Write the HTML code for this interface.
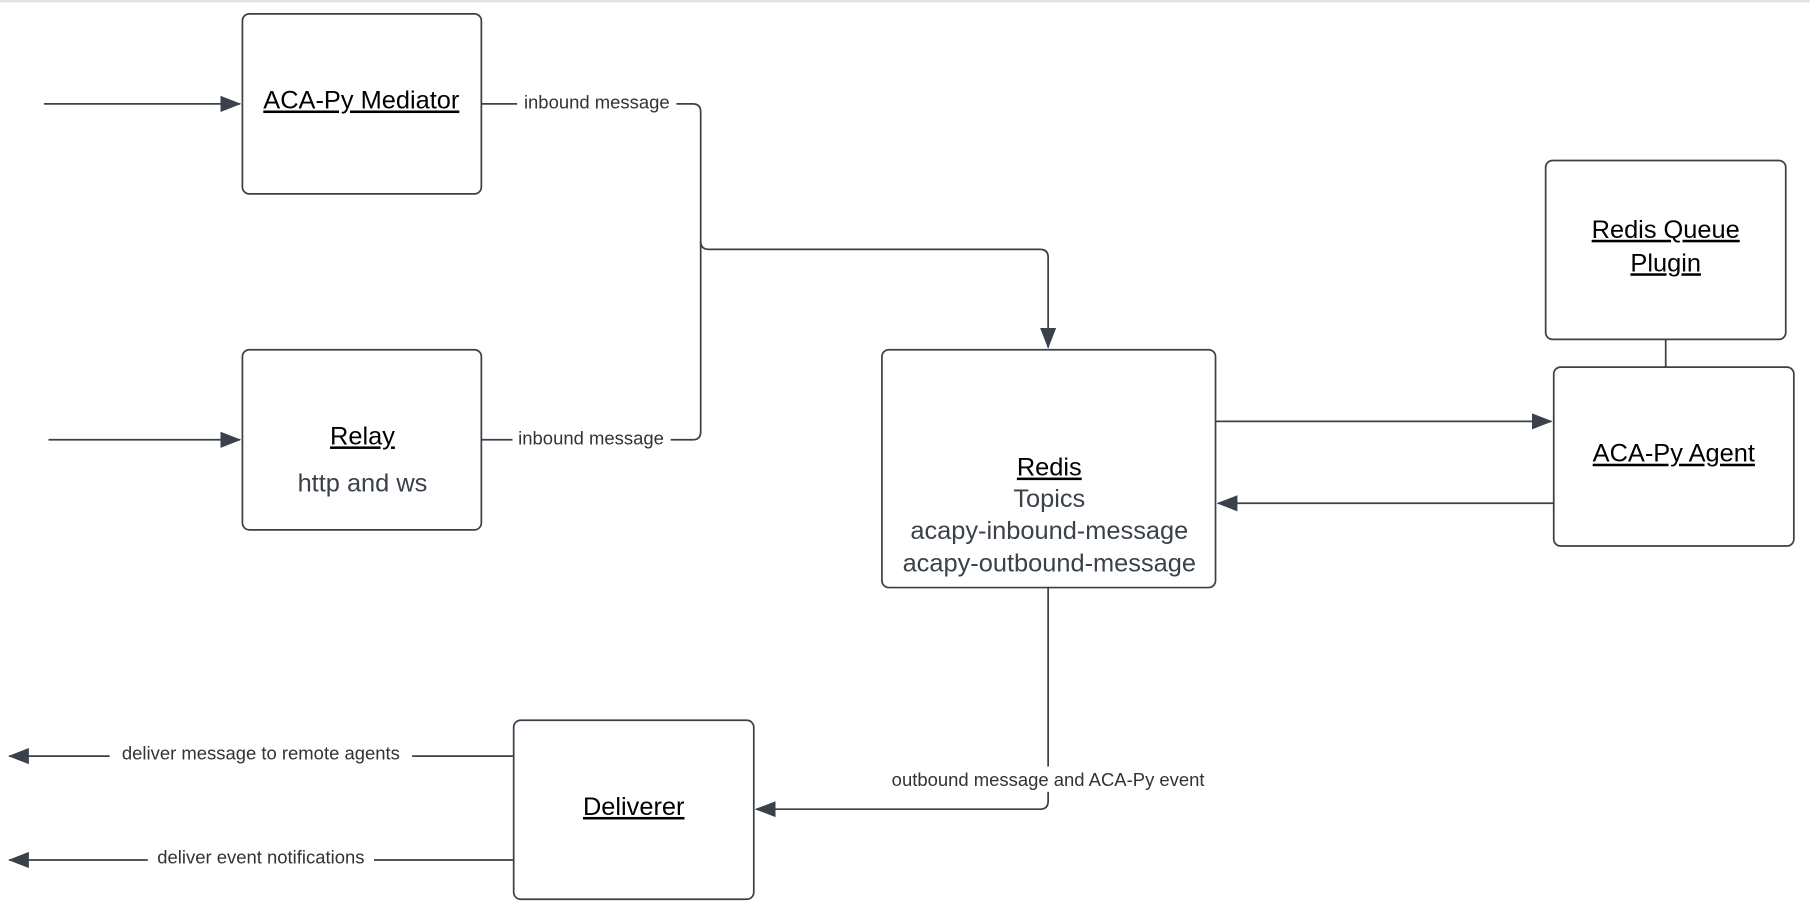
<!DOCTYPE html>
<html><head><meta charset="utf-8"><style>
html,body{margin:0;padding:0;background:#fff;width:1810px;height:920px;overflow:hidden}
svg{display:block}
text{font-family:"Liberation Sans",Arial,sans-serif}
</style></head><body>
<svg width="1810" height="920" viewBox="0 0 1568 797" xmlns="http://www.w3.org/2000/svg">
<defs>
<marker id="a" markerWidth="18" markerHeight="14" refX="17" refY="7" orient="auto" markerUnits="userSpaceOnUse">
<path d="M0,0 L18,7 L0,14 Z" fill="#3a414a"/></marker>
</defs>
<rect x="0" y="0" width="1568" height="2" fill="#e2e2e2"/>
<g fill="none" stroke="#3a414a" stroke-width="1.5">
<rect x="210" y="12" width="207" height="156" rx="6"/>
<rect x="210" y="303" width="207" height="156" rx="6"/>
<rect x="764" y="303" width="289" height="206" rx="6"/>
<rect x="1339" y="139" width="208" height="155" rx="6"/>
<rect x="1346" y="318" width="208" height="155" rx="6"/>
<rect x="445" y="624" width="208" height="155" rx="6"/>
<line x1="38" y1="90" x2="208" y2="90" marker-end="url(#a)"/>
<line x1="42" y1="381" x2="208" y2="381" marker-end="url(#a)"/>
<path d="M417,90 H600 Q607,90 607,97 V374 Q607,381 600,381 H417"/>
<path d="M607,209 Q607,216 614,216 H901 Q908,216 908,223 V301" marker-end="url(#a)"/>
<line x1="1443" y1="294" x2="1443" y2="318"/>
<line x1="1053" y1="365" x2="1344" y2="365" marker-end="url(#a)"/>
<line x1="1346" y1="436" x2="1055" y2="436" marker-end="url(#a)"/>
<path d="M908,509 V694 Q908,701 901,701 H655" marker-end="url(#a)"/>
<line x1="445" y1="655" x2="8" y2="655" marker-end="url(#a)"/>
<line x1="445" y1="745" x2="8" y2="745" marker-end="url(#a)"/>
</g>
<g font-size="16" fill="#333" text-anchor="middle">
<rect x="448" y="78" width="138" height="20" fill="#fff"/>
<text x="517" y="94">inbound message</text>
<rect x="444" y="369" width="137" height="20" fill="#fff"/>
<text x="512" y="385">inbound message</text>
<rect x="760" y="664" width="296" height="22" fill="#fff"/>
<text x="908" y="681">outbound message and ACA-Py event</text>
<rect x="95" y="643" width="262" height="20" fill="#fff"/>
<text x="226" y="658">deliver message to remote agents</text>
<rect x="128" y="733" width="196" height="20" fill="#fff"/>
<text x="226" y="748">deliver event notifications</text>
</g>
<g font-size="22" fill="#000" text-anchor="middle" text-decoration="underline">
<text x="313" y="94">ACA-Py Mediator</text>
<text x="314" y="385">Relay</text>
<text x="909" y="412">Redis</text>
<text x="1443" y="206">Redis Queue</text>
<text x="1443" y="235">Plugin</text>
<text x="1450" y="400">ACA-Py Agent</text>
<text x="549" y="706">Deliverer</text>
</g>
<g font-size="22" fill="#3a414a" text-anchor="middle">
<text x="314" y="426">http and ws</text>
<text x="909" y="439">Topics</text>
<text x="909" y="467">acapy-inbound-message</text>
<text x="909" y="495">acapy-outbound-message</text>
</g>
</svg>
</body></html>
